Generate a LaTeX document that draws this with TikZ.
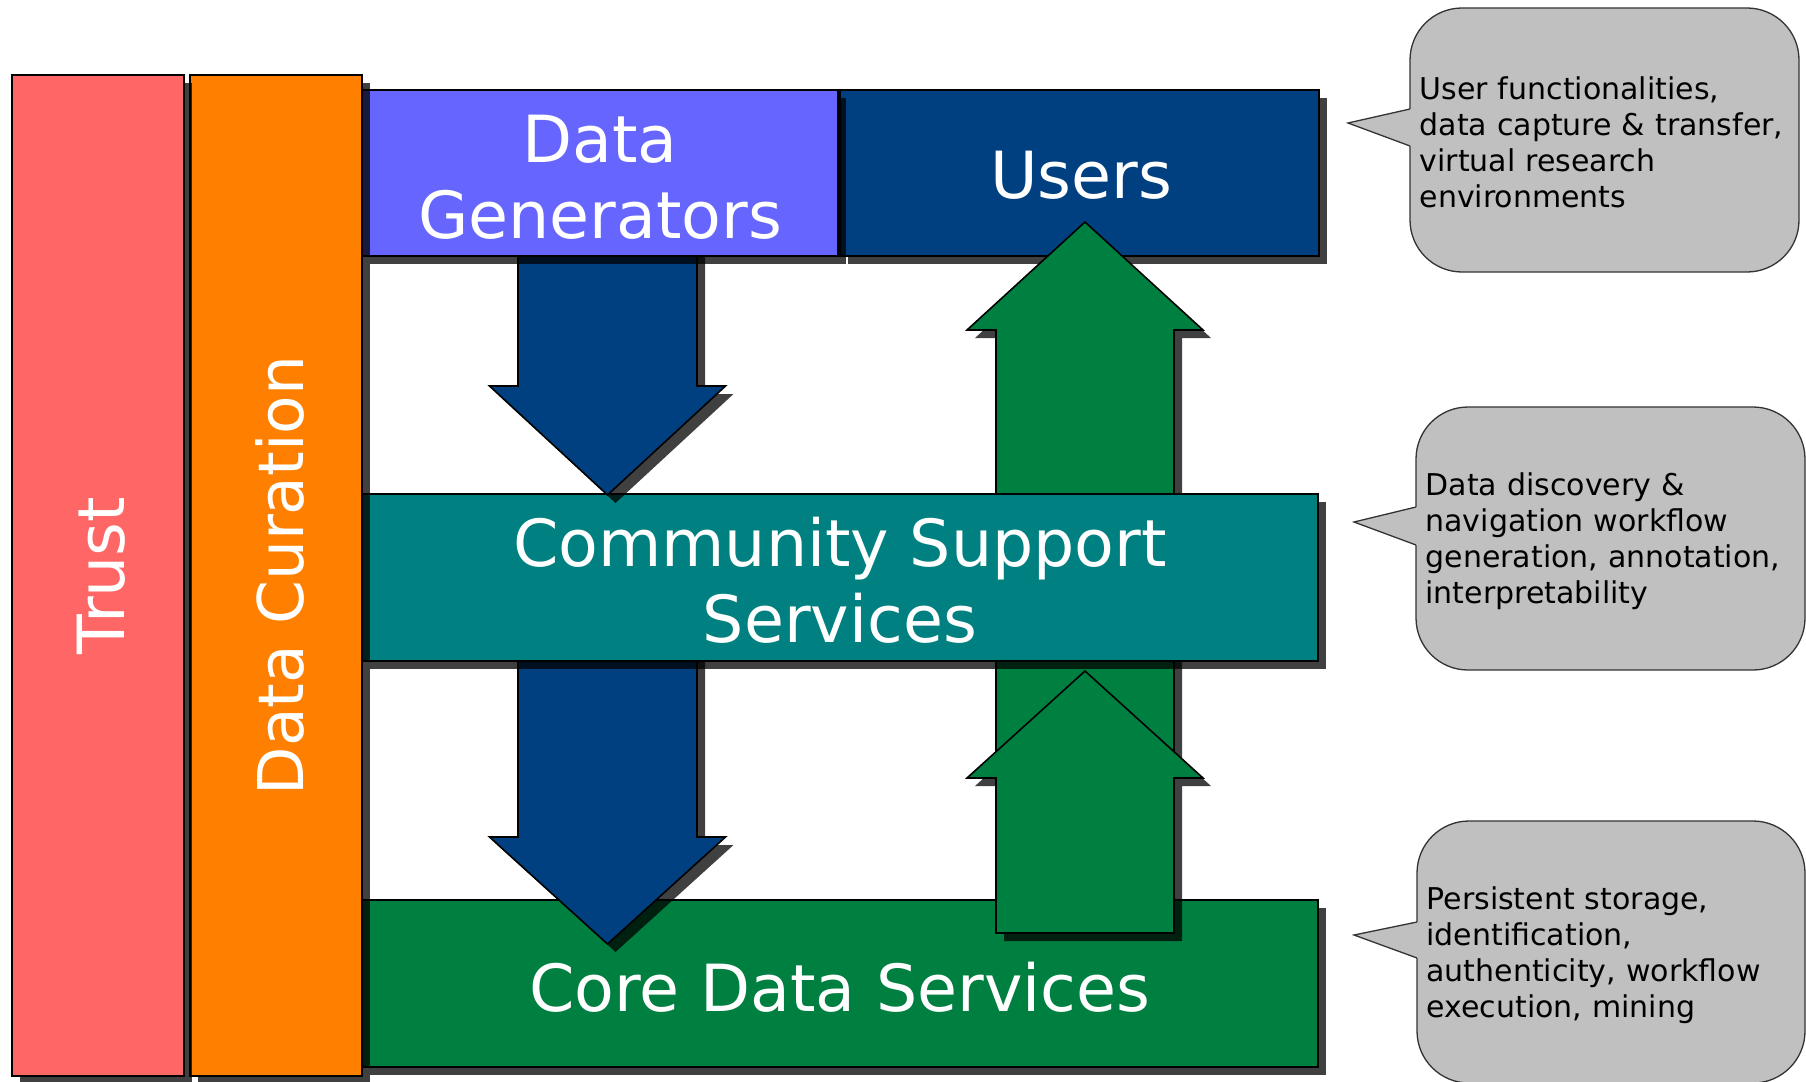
\documentclass[tikz,border=0pt]{standalone}
\usepackage{fontspec}
\setmainfont{DejaVu Sans}
\usetikzlibrary{shadows}

\definecolor{trustred}{HTML}{FF6666}
\definecolor{curationorange}{HTML}{FF8000}
\definecolor{generatorblue}{HTML}{6666FF}
\definecolor{usernavy}{HTML}{004080}
\definecolor{communityteal}{HTML}{008080}
\definecolor{coregreen}{HTML}{008040}
\definecolor{notegray}{HTML}{C0C0C0}
\definecolor{noteline}{HTML}{333333}

\begin{document}
\begin{tikzpicture}[x=1pt,y=-1pt,
  castshadow/.style={drop shadow={shadow xshift=8pt,shadow yshift=-8pt,opacity=.75,fill=black}},
  slab/.style={draw=black,line width=1.8pt,castshadow,inner sep=0pt,outer sep=0pt},
  bigtext/.style={text=white,align=center,inner sep=0pt,font=\fontsize{65}{76}\selectfont},
  blockarrow/.style={draw=black,line width=1.6pt,line join=miter,castshadow},
  note/.style={draw=noteline,line width=1.3pt,fill=notegray,rounded corners=52pt,inner sep=0pt},
  notetext/.style={anchor=west,inner sep=0pt,align=left,text width=370pt,
    font=\fontsize{30}{36}\selectfont},
  tailfill/.style={fill=notegray},
  tailline/.style={draw=noteline,line width=1.3pt,line join=miter}]

\useasboundingbox (0,0) rectangle (1806,1081);
\fill[white] (0,0) rectangle (1806,1081);
\clip (0,0) rectangle (1806,1081);

% top row: users, with the first upward arrow on top of it
\node[slab,fill=usernavy,minimum width=479pt,minimum height=166pt] (users) at (1079.5,173) {};
\draw[blockarrow,fill=coregreen] (996,760) -- (996,330) -- (967,330) -- (1085,222)
  -- (1203,330) -- (1174,330) -- (1174,760) -- cycle;
\node[bigtext] (userstext) at (1081,175.5) {Users};

% core data services and the second downward arrow
\node[slab,fill=coregreen,minimum width=956pt,minimum height=167pt] (core) at (840,983.5) {};
\draw[blockarrow,fill=usernavy] (518,600) -- (518,837) -- (489.5,837) -- (607.5,944)
  -- (725.5,837) -- (697,837) -- (697,600) -- cycle;
\node[bigtext] (coretext) at (840,987) {Core Data Services};

% community support services
\node[slab,fill=communityteal,minimum width=956pt,minimum height=167pt] (community) at (840,577.5) {};
\node[bigtext] (communitytext) at (840,580) {Community Support\\Services};

% first downward arrow, from the data generators
\draw[blockarrow,fill=usernavy] (518,240) -- (518,386) -- (489.5,386) -- (607.5,495)
  -- (725.5,386) -- (697,386) -- (697,240) -- cycle;
\node[slab,fill=generatorblue,minimum width=476pt,minimum height=166pt] (generators) at (600,173) {};
\node[bigtext] (generatorstext) at (600,177.5) {Data\\Generators};

% second upward arrow, from the core data services
\draw[blockarrow,fill=coregreen] (996,933) -- (996,778) -- (967,778) -- (1085,671)
  -- (1203,778) -- (1174,778) -- (1174,933) -- cycle;

% vertical pillars
\node[slab,fill=curationorange,minimum width=172pt,minimum height=1001pt] (curation) at (276,575.5) {};
\node[bigtext,rotate=90,font=\fontsize{63}{74}\selectfont] (curationtext) at (280,575.5) {Data Curation};
\node[slab,fill=trustred,minimum width=172pt,minimum height=1001pt] (trust) at (98,575.5) {};
\node[bigtext,rotate=90] (trusttext) at (101,575.5) {Trust};

% callouts
\node[note,minimum width=389pt,minimum height=264pt] (note1) at (1604.5,140) {};
\fill[tailfill] (1348,123) -- (1410,109) -- (1412,109) -- (1412,146) -- (1410,146) -- cycle;
\draw[tailline] (1410,109) -- (1348,123) -- (1410,146);
\node[notetext] (note1text) at ([xshift=10pt,yshift=-2.5pt]note1.west)
  {User functionalities,\\data capture \& transfer,\\virtual research\\environments};

\node[note,minimum width=389pt,minimum height=263pt] (note2) at (1610.5,538.5) {};
\fill[tailfill] (1354,522) -- (1416,507) -- (1418,507) -- (1418,545) -- (1416,545) -- cycle;
\draw[tailline] (1416,507) -- (1354,522) -- (1416,545);
\node[notetext] (note2text) at ([xshift=10pt,yshift=-3pt]note2.west)
  {Data discovery \&\\navigation workflow\\generation, annotation,\\interpretability};

\node[note,minimum width=388pt,minimum height=262pt] (note3) at (1611,952) {};
\fill[tailfill] (1354,935) -- (1417,922) -- (1419,922) -- (1419,958) -- (1417,958) -- cycle;
\draw[tailline] (1417,922) -- (1354,935) -- (1417,958);
\node[notetext] (note3text) at ([xshift=10pt,yshift=-3pt]note3.west)
  {Persistent storage,\\identification,\\authenticity, workflow\\execution, mining};
\end{tikzpicture}
\end{document}
